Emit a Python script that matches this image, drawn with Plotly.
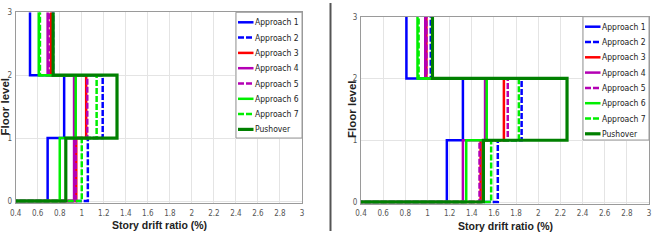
import plotly.graph_objects as go

# ---------------- data ----------------
approaches = ["Approach 1", "Approach 2", "Approach 3", "Approach 4",
              "Approach 5", "Approach 6", "Approach 7", "Pushover"]
floors = [0, 1, 2, 3]

# story drift ratio (%) per story (story 1, story 2, story 3) -- left panel
left_story1 = [0.69, 1.055, 0.95, 0.93, 0.945, 0.80, 1.00, 0.855]
left_story2 = [0.84, 1.19, 1.04, 0.93, 1.05, 0.945, 1.135, 1.32]
left_story3 = [0.53, 0.74, 0.72, 0.69, 0.70, 0.61, 0.62, 0.74]

# right panel
right_story1 = [1.175, 1.635, 1.48, 1.32, 1.47, 1.35, 1.575, 1.505]
right_story2 = [1.32, 1.85, 1.69, 1.52, 1.725, 1.535, 1.825, 2.26]
right_story3 = [0.81, 1.03, 0.99, 0.98, 0.99, 0.91, 0.92, 1.045]

x_ticks = [0.4, 0.6, 0.8, 1.0, 1.2, 1.4, 1.6, 1.8, 2.0, 2.2, 2.4, 2.6, 2.8, 3.0]
x_ticktext = ["0.4", "0.6", "0.8", "1", "1.2", "1.4", "1.6", "1.8", "2",
              "2.2", "2.4", "2.6", "2.8", "3"]
y_ticks = [0, 1, 2, 3]

# ---------------- styles ----------------
colors = ["#0000ff", "#0000ff", "#ff0000", "#b400b4",
          "#b400b4", "#00ee00", "#00ee00", "#008000"]
dashes = ["solid", "6px,2px", "solid", "solid",
          "6px,2px", "solid", "6px,2px", "solid"]
widths = [2.5, 2.5, 2.5, 2.5, 2.5, 2.5, 2.5, 3.2]

W, H = 665, 241


def px(x):
    return x / W


def py(y):
    return 1 - y / H


fig = go.Figure()


def stair(d1, d2, d3):
    xs = [0.0, d1, d1, d2, d2, d3, d3]
    ys = [floors[0], floors[0], floors[1], floors[1], floors[2], floors[2], floors[3]]
    return xs, ys


panels = [
    dict(s1=left_story1, s2=left_story2, s3=left_story3, xa="x", ya="y"),
    dict(s1=right_story1, s2=right_story2, s3=right_story3, xa="x2", ya="y2"),
]

for p in panels:
    for i, name in enumerate(approaches):
        xs, ys = stair(p["s1"][i], p["s2"][i], p["s3"][i])
        fig.add_trace(go.Scatter(
            x=xs, y=ys, mode="lines", name=name, showlegend=False,
            line=dict(color=colors[i], dash=dashes[i], width=widths[i]),
            xaxis=p["xa"], yaxis=p["ya"]))

tick_font = dict(family="DejaVu Sans Condensed, Liberation Sans, Arial", size=8, color="#555555")
axis_common = dict(
    range=[0.4, 3.0], tickvals=x_ticks, ticktext=x_ticktext,
    showgrid=True, gridcolor="#e4e4e4", gridwidth=1,
    showline=True, mirror=True, linecolor="#9a9a9a", linewidth=1,
    ticks="outside", ticklen=2, tickcolor="rgba(0,0,0,0)",
    tickfont=tick_font,
    zeroline=False, automargin=False, fixedrange=True,
)
yaxis_common = dict(
    range=[-0.03, 3.0], tickvals=y_ticks,
    showgrid=True, gridcolor="#e4e4e4", gridwidth=1,
    showline=True, mirror=True, linecolor="#9a9a9a", linewidth=1,
    ticks="outside", ticklen=1, tickcolor="rgba(0,0,0,0)",
    tickfont=tick_font,
    zeroline=False, automargin=False, fixedrange=True,
)

fig.update_layout(
    width=W, height=H,
    margin=dict(l=0, r=0, t=0, b=0),
    paper_bgcolor="white", plot_bgcolor="white",
    xaxis=dict(domain=[px(15.7), px(302)], anchor="y", **axis_common),
    yaxis=dict(domain=[py(202.9), py(12.3)], anchor="x", **yaxis_common),
    xaxis2=dict(domain=[px(361), px(649)], anchor="y2", **axis_common),
    yaxis2=dict(domain=[py(203.85), py(16.7)], anchor="x2", **yaxis_common),
    showlegend=False,
)

shapes = []
annotations = []

# axis titles
title_font_x = dict(family="Liberation Sans, Arial", size=10.5, color="#222222")
title_font_y = dict(family="Liberation Sans, Arial", size=11.5, color="#222222")
for cx, cy, fx, fy in [(159, 225, 4.5, 107), (505, 225.5, 352, 109)]:
    annotations.append(dict(x=px(cx), y=py(cy), xref="paper", yref="paper",
                            text="<b>Story drift ratio (%)</b>", showarrow=False,
                            font=title_font_x, xanchor="center", yanchor="middle",
                            borderpad=0))
    annotations.append(dict(x=px(fx), y=py(fy), xref="paper", yref="paper",
                            text="<b>Floor level</b>", showarrow=False, textangle=-90,
                            font=title_font_y, xanchor="center", yanchor="middle",
                            borderpad=0))

# manual legends
legend_boxes = [dict(x0=236, x1=302, y0=12.3, y1=138),
                dict(x0=583, x1=649, y0=16.7, y1=140)]
for b in legend_boxes:
    shapes.append(dict(type="rect", xref="paper", yref="paper",
                       x0=px(b["x0"]), x1=px(b["x1"]), y0=py(b["y1"]), y1=py(b["y0"]),
                       line=dict(color="#9a9a9a", width=1), fillcolor="white",
                       layer="above"))
    for i, name in enumerate(approaches):
        yy = b["y0"] + 10 + 15.3 * i
        shapes.append(dict(type="line", xref="paper", yref="paper",
                           x0=px(b["x0"] + 2), x1=px(b["x0"] + 17.5), y0=py(yy), y1=py(yy),
                           line=dict(color=colors[i], dash=dashes[i], width=widths[i]),
                           layer="above"))
        annotations.append(dict(x=px(b["x0"] + 17.5), y=py(yy), xref="paper", yref="paper",
                                text=name, showarrow=False, xanchor="left", yanchor="middle",
                                borderpad=0,
                                font=dict(family="DejaVu Sans Condensed, Liberation Sans, Arial",
                                          size=8.5, color="#222222")))

# separator between the two panels
shapes.append(dict(type="line", xref="paper", yref="paper",
                   x0=px(330.5), x1=px(330.5), y0=py(231), y1=py(3),
                   line=dict(color="#555555", width=2)))

fig.update_layout(shapes=shapes, annotations=annotations)

fig.write_html("out.html", config={"displayModeBar": False},
               post_script="document.body.style.margin='0';document.body.style.padding='0';")
